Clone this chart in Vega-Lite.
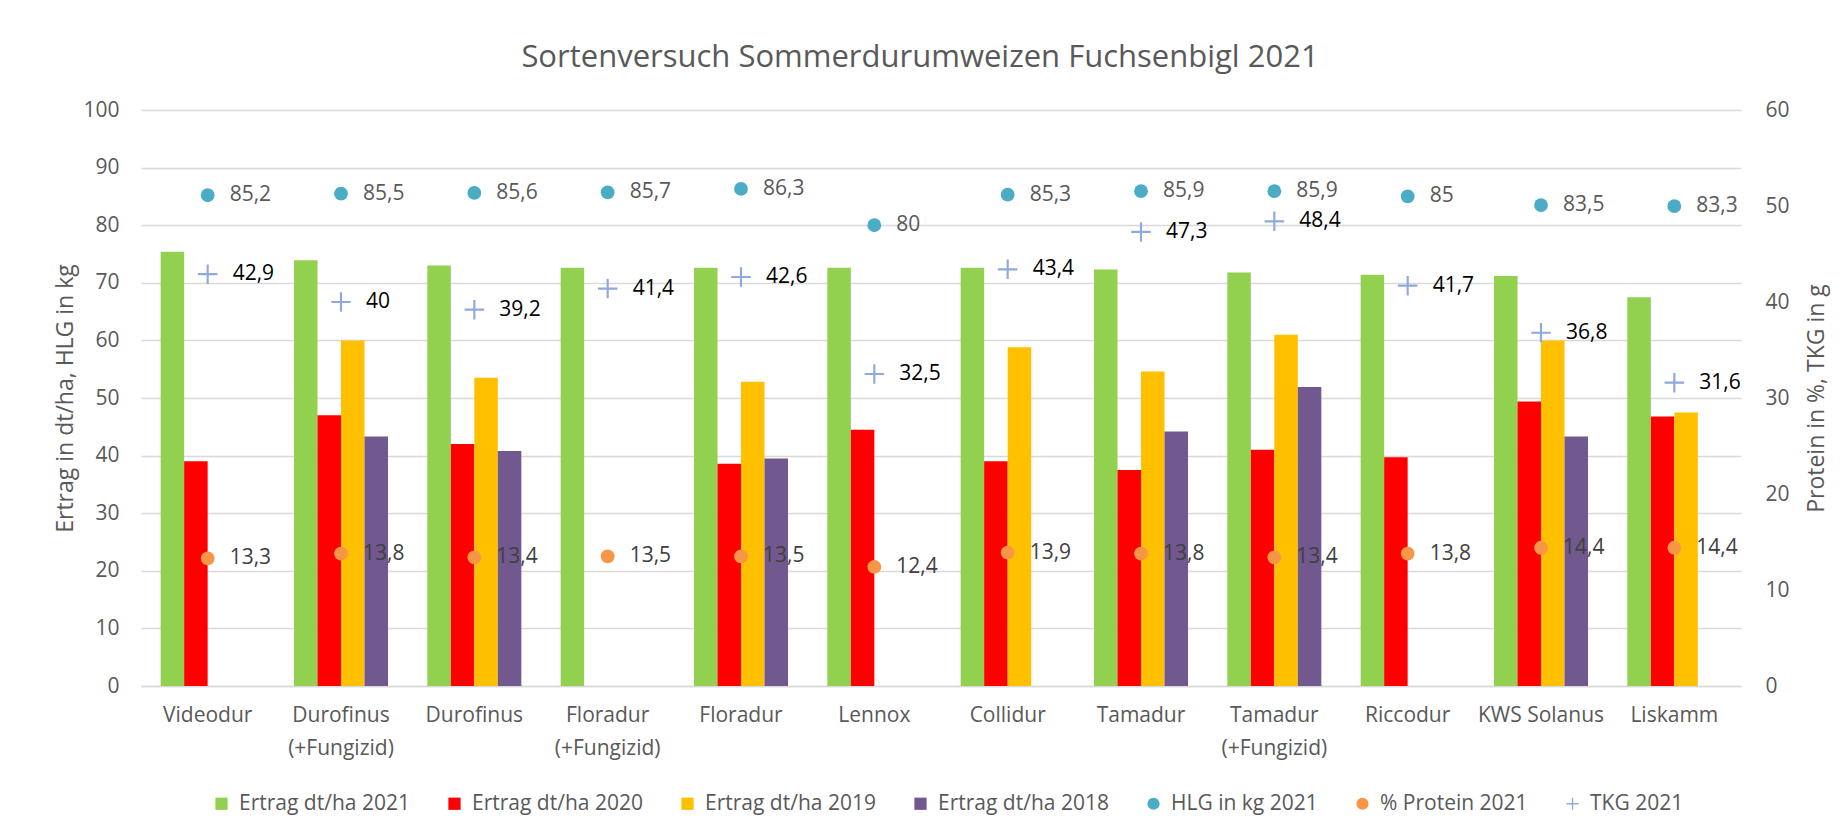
{
  "$schema": "https://vega.github.io/schema/vega-lite/v6.json",
  "autosize": {"type": "none"},
  "padding": {"left": 141, "top": 110, "right": 100, "bottom": 146},
  "width": 1600,
  "height": 576,
  "background": "white",
  "title": {
    "text": "Sortenversuch Sommerdurumweizen Fuchsenbigl 2021",
    "font": "Open Sans",
    "fontSize": 31,
    "fontWeight": "normal",
    "color": "#595959",
    "anchor": "middle",
    "baseline": "alphabetic",
    "dx": -21,
    "offset": 1
  },
  "data": {
    "values": [
      {"sorte": "Videodur", "serie": "Ertrag dt/ha 2021", "wert": 75.4},
      {"sorte": "Videodur", "serie": "Ertrag dt/ha 2020", "wert": 39.0},
      {"sorte": "Videodur", "serie": "HLG in kg 2021", "wert": 85.2},
      {"sorte": "Videodur", "serie": "% Protein 2021", "wert": 13.3},
      {"sorte": "Videodur", "serie": "TKG 2021", "wert": 42.9},

      {"sorte": "Durofinus (+Fungizid)", "serie": "Ertrag dt/ha 2021", "wert": 73.9},
      {"sorte": "Durofinus (+Fungizid)", "serie": "Ertrag dt/ha 2020", "wert": 47.0},
      {"sorte": "Durofinus (+Fungizid)", "serie": "Ertrag dt/ha 2019", "wert": 60.0},
      {"sorte": "Durofinus (+Fungizid)", "serie": "Ertrag dt/ha 2018", "wert": 43.3},
      {"sorte": "Durofinus (+Fungizid)", "serie": "HLG in kg 2021", "wert": 85.5},
      {"sorte": "Durofinus (+Fungizid)", "serie": "% Protein 2021", "wert": 13.8},
      {"sorte": "Durofinus (+Fungizid)", "serie": "TKG 2021", "wert": 40},

      {"sorte": "Durofinus", "serie": "Ertrag dt/ha 2021", "wert": 73.0},
      {"sorte": "Durofinus", "serie": "Ertrag dt/ha 2020", "wert": 42.0},
      {"sorte": "Durofinus", "serie": "Ertrag dt/ha 2019", "wert": 53.5},
      {"sorte": "Durofinus", "serie": "Ertrag dt/ha 2018", "wert": 40.8},
      {"sorte": "Durofinus", "serie": "HLG in kg 2021", "wert": 85.6},
      {"sorte": "Durofinus", "serie": "% Protein 2021", "wert": 13.4},
      {"sorte": "Durofinus", "serie": "TKG 2021", "wert": 39.2},

      {"sorte": "Floradur (+Fungizid)", "serie": "Ertrag dt/ha 2021", "wert": 72.6},
      {"sorte": "Floradur (+Fungizid)", "serie": "HLG in kg 2021", "wert": 85.7},
      {"sorte": "Floradur (+Fungizid)", "serie": "% Protein 2021", "wert": 13.5},
      {"sorte": "Floradur (+Fungizid)", "serie": "TKG 2021", "wert": 41.4},

      {"sorte": "Floradur", "serie": "Ertrag dt/ha 2021", "wert": 72.6},
      {"sorte": "Floradur", "serie": "Ertrag dt/ha 2020", "wert": 38.6},
      {"sorte": "Floradur", "serie": "Ertrag dt/ha 2019", "wert": 52.8},
      {"sorte": "Floradur", "serie": "Ertrag dt/ha 2018", "wert": 39.5},
      {"sorte": "Floradur", "serie": "HLG in kg 2021", "wert": 86.3},
      {"sorte": "Floradur", "serie": "% Protein 2021", "wert": 13.5},
      {"sorte": "Floradur", "serie": "TKG 2021", "wert": 42.6},

      {"sorte": "Lennox", "serie": "Ertrag dt/ha 2021", "wert": 72.6},
      {"sorte": "Lennox", "serie": "Ertrag dt/ha 2020", "wert": 44.5},
      {"sorte": "Lennox", "serie": "HLG in kg 2021", "wert": 80},
      {"sorte": "Lennox", "serie": "% Protein 2021", "wert": 12.4},
      {"sorte": "Lennox", "serie": "TKG 2021", "wert": 32.5},

      {"sorte": "Collidur", "serie": "Ertrag dt/ha 2021", "wert": 72.6},
      {"sorte": "Collidur", "serie": "Ertrag dt/ha 2020", "wert": 39.0},
      {"sorte": "Collidur", "serie": "Ertrag dt/ha 2019", "wert": 58.8},
      {"sorte": "Collidur", "serie": "HLG in kg 2021", "wert": 85.3},
      {"sorte": "Collidur", "serie": "% Protein 2021", "wert": 13.9},
      {"sorte": "Collidur", "serie": "TKG 2021", "wert": 43.4},

      {"sorte": "Tamadur", "serie": "Ertrag dt/ha 2021", "wert": 72.3},
      {"sorte": "Tamadur", "serie": "Ertrag dt/ha 2020", "wert": 37.5},
      {"sorte": "Tamadur", "serie": "Ertrag dt/ha 2019", "wert": 54.6},
      {"sorte": "Tamadur", "serie": "Ertrag dt/ha 2018", "wert": 44.2},
      {"sorte": "Tamadur", "serie": "HLG in kg 2021", "wert": 85.9},
      {"sorte": "Tamadur", "serie": "% Protein 2021", "wert": 13.8},
      {"sorte": "Tamadur", "serie": "TKG 2021", "wert": 47.3},

      {"sorte": "Tamadur (+Fungizid)", "serie": "Ertrag dt/ha 2021", "wert": 71.8},
      {"sorte": "Tamadur (+Fungizid)", "serie": "Ertrag dt/ha 2020", "wert": 41.0},
      {"sorte": "Tamadur (+Fungizid)", "serie": "Ertrag dt/ha 2019", "wert": 61.0},
      {"sorte": "Tamadur (+Fungizid)", "serie": "Ertrag dt/ha 2018", "wert": 51.9},
      {"sorte": "Tamadur (+Fungizid)", "serie": "HLG in kg 2021", "wert": 85.9},
      {"sorte": "Tamadur (+Fungizid)", "serie": "% Protein 2021", "wert": 13.4},
      {"sorte": "Tamadur (+Fungizid)", "serie": "TKG 2021", "wert": 48.4},

      {"sorte": "Riccodur", "serie": "Ertrag dt/ha 2021", "wert": 71.4},
      {"sorte": "Riccodur", "serie": "Ertrag dt/ha 2020", "wert": 39.7},
      {"sorte": "Riccodur", "serie": "HLG in kg 2021", "wert": 85},
      {"sorte": "Riccodur", "serie": "% Protein 2021", "wert": 13.8},
      {"sorte": "Riccodur", "serie": "TKG 2021", "wert": 41.7},

      {"sorte": "KWS Solanus", "serie": "Ertrag dt/ha 2021", "wert": 71.2},
      {"sorte": "KWS Solanus", "serie": "Ertrag dt/ha 2020", "wert": 49.4},
      {"sorte": "KWS Solanus", "serie": "Ertrag dt/ha 2019", "wert": 60.0},
      {"sorte": "KWS Solanus", "serie": "Ertrag dt/ha 2018", "wert": 43.3},
      {"sorte": "KWS Solanus", "serie": "HLG in kg 2021", "wert": 83.5},
      {"sorte": "KWS Solanus", "serie": "% Protein 2021", "wert": 14.4},
      {"sorte": "KWS Solanus", "serie": "TKG 2021", "wert": 36.8},

      {"sorte": "Liskamm", "serie": "Ertrag dt/ha 2021", "wert": 67.5},
      {"sorte": "Liskamm", "serie": "Ertrag dt/ha 2020", "wert": 46.8},
      {"sorte": "Liskamm", "serie": "Ertrag dt/ha 2019", "wert": 47.5},
      {"sorte": "Liskamm", "serie": "HLG in kg 2021", "wert": 83.3},
      {"sorte": "Liskamm", "serie": "% Protein 2021", "wert": 14.4},
      {"sorte": "Liskamm", "serie": "TKG 2021", "wert": 31.6}
    ]
  },
  "encoding": {
    "x": {
      "field": "sorte",
      "type": "nominal",
      "sort": null,
      "scale": {"paddingInner": 0.295, "paddingOuter": 0.1475},
      "axis": {
        "title": null,
        "labelAngle": 0,
        "labelExpr": "split(replace(datum.label, ' (+', '|(+'), '|')",
        "labelLineHeight": 33,
        "labelPadding": 18,
        "domain": true,
        "domainColor": "#D9D9D9",
        "domainWidth": 1.5,
        "ticks": false,
        "grid": false
      }
    }
  },
  "layer": [
    {
      "encoding": {
        "y": {
          "field": "wert",
          "type": "quantitative",
          "scale": {"domain": [0, 100], "nice": false},
          "axis": {
            "title": "Ertrag in dt/ha, HLG in kg",
            "values": [0, 10, 20, 30, 40, 50, 60, 70, 80, 90, 100],
            "orient": "left",
            "grid": true,
            "gridColor": "#D9D9D9",
            "gridWidth": 1.5,
            "domain": false,
            "ticks": false,
            "labelPadding": 22,
            "titlePadding": 5
          }
        }
      },
      "layer": [
        {
          "transform": [{"filter": "indexof(datum.serie, 'Ertrag') === 0"}],
          "mark": {"type": "bar"},
          "encoding": {
            "xOffset": {
              "field": "serie",
              "type": "nominal",
              "scale": {"domain": ["Ertrag dt/ha 2021", "Ertrag dt/ha 2020", "Ertrag dt/ha 2019", "Ertrag dt/ha 2018"], "paddingInner": 0, "paddingOuter": 0}
            },
            "fill": {
              "field": "serie",
              "type": "nominal",
              "legend": null,
              "scale": {
                "domain": ["Ertrag dt/ha 2021", "Ertrag dt/ha 2020", "Ertrag dt/ha 2019", "Ertrag dt/ha 2018"],
                "range": ["#92D050", "#FF0000", "#FFC000", "#71588F"]
              }
            }
          }
        },
        {
          "transform": [{"filter": "datum.serie === 'HLG in kg 2021'"}],
          "mark": {"type": "point", "filled": true, "opacity": 1, "size": 190, "strokeWidth": 0},
          "encoding": {
            "color": {
              "field": "serie",
              "type": "nominal",
              "scale": {
                "domain": ["Ertrag dt/ha 2021", "Ertrag dt/ha 2020", "Ertrag dt/ha 2019", "Ertrag dt/ha 2018", "HLG in kg 2021", "% Protein 2021", "TKG 2021"],
                "range": ["#92D050", "#FF0000", "#FFC000", "#71588F", "#4BACC6", "#F79646", "#8EA9DB"]
              },
              "legend": {"orient": "none", "legendX": 70, "legendY": 683, "direction": "horizontal", "title": null}
            },
            "shape": {
              "field": "serie",
              "type": "nominal",
              "scale": {
                "domain": ["Ertrag dt/ha 2021", "Ertrag dt/ha 2020", "Ertrag dt/ha 2019", "Ertrag dt/ha 2018", "HLG in kg 2021", "% Protein 2021", "TKG 2021"],
                "range": ["square", "square", "square", "square", "circle", "circle", "M-1,-0.11L-0.11,-0.11L-0.11,-1L0.11,-1L0.11,-0.11L1,-0.11L1,0.11L0.11,0.11L0.11,1L-0.11,1L-0.11,0.11L-1,0.11Z"]
              },
              "legend": {"orient": "none", "legendX": 70, "legendY": 683, "direction": "horizontal", "title": null}
            }
          }
        },
        {
          "transform": [{"filter": "datum.serie === 'HLG in kg 2021'"}],
          "mark": {"type": "text", "align": "left", "baseline": "middle", "dx": 22, "font": "Open Sans", "fontSize": 21, "color": "#595959"},
          "encoding": {
            "text": {"field": "wert", "type": "quantitative", "format": ".1~f"}
          }
        }
      ]
    },
    {
      "encoding": {
        "y": {
          "field": "wert",
          "type": "quantitative",
          "scale": {"domain": [0, 60], "nice": false},
          "axis": {
            "title": "Protein in %, TKG in g",
            "values": [0, 10, 20, 30, 40, 50, 60],
            "orient": "right",
            "grid": false,
            "domain": false,
            "ticks": false,
            "labelPadding": 24,
            "titlePadding": 16,
            "titleAngle": 270,
            "titleBaseline": "top"
          }
        }
      },
      "layer": [
        {
          "transform": [{"filter": "datum.serie === '% Protein 2021' || datum.serie === 'TKG 2021'"}],
          "mark": {"type": "point", "filled": true, "opacity": 1, "strokeWidth": 0},
          "encoding": {
            "color": {
              "field": "serie",
              "type": "nominal",
              "scale": {
                "domain": ["Ertrag dt/ha 2021", "Ertrag dt/ha 2020", "Ertrag dt/ha 2019", "Ertrag dt/ha 2018", "HLG in kg 2021", "% Protein 2021", "TKG 2021"],
                "range": ["#92D050", "#FF0000", "#FFC000", "#71588F", "#4BACC6", "#F79646", "#8EA9DB"]
              },
              "legend": {"orient": "none", "legendX": 70, "legendY": 683, "direction": "horizontal", "title": null}
            },
            "shape": {
              "field": "serie",
              "type": "nominal",
              "scale": {
                "domain": ["Ertrag dt/ha 2021", "Ertrag dt/ha 2020", "Ertrag dt/ha 2019", "Ertrag dt/ha 2018", "HLG in kg 2021", "% Protein 2021", "TKG 2021"],
                "range": ["square", "square", "square", "square", "circle", "circle", "M-1,-0.11L-0.11,-0.11L-0.11,-1L0.11,-1L0.11,-0.11L1,-0.11L1,0.11L0.11,0.11L0.11,1L-0.11,1L-0.11,0.11L-1,0.11Z"]
              },
              "legend": {"orient": "none", "legendX": 70, "legendY": 683, "direction": "horizontal", "title": null}
            },
            "size": {
              "field": "serie",
              "type": "nominal",
              "legend": null,
              "scale": {"domain": ["% Protein 2021", "TKG 2021"], "range": [190, 380]}
            }
          }
        },
        {
          "transform": [{"filter": "datum.serie === '% Protein 2021'"}],
          "mark": {"type": "text", "align": "left", "baseline": "middle", "dx": 22, "font": "Open Sans", "fontSize": 21, "color": "#404040"},
          "encoding": {
            "text": {"field": "wert", "type": "quantitative", "format": ".1~f"}
          }
        },
        {
          "transform": [{"filter": "datum.serie === 'TKG 2021'"}],
          "mark": {"type": "text", "align": "left", "baseline": "middle", "dx": 25, "font": "Open Sans", "fontSize": 21, "color": "#000000"},
          "encoding": {
            "text": {"field": "wert", "type": "quantitative", "format": ".1~f"}
          }
        }
      ]
    }
  ],
  "resolve": {"scale": {"y": "independent"}},
  "config": {
    "locale": {
      "number": {"decimal": ",", "thousands": ".", "grouping": [3], "currency": ["", " €"]}
    },
    "view": {"stroke": null},
    "font": "Open Sans",
    "axis": {
      "labelFont": "Open Sans",
      "labelFontSize": 21,
      "labelColor": "#595959",
      "titleFont": "Open Sans",
      "titleFontSize": 23,
      "titleFontWeight": "normal",
      "titleColor": "#595959"
    },
    "legend": {
      "labelFont": "Open Sans",
      "labelFontSize": 21,
      "labelColor": "#595959",
      "labelOffset": 7,
      "columnPadding": 34,
      "symbolSize": 150,
      "symbolStrokeWidth": 0,
      "symbolOpacity": 1,
      "padding": 0,
      "labelLimit": 400
    }
  }
}
